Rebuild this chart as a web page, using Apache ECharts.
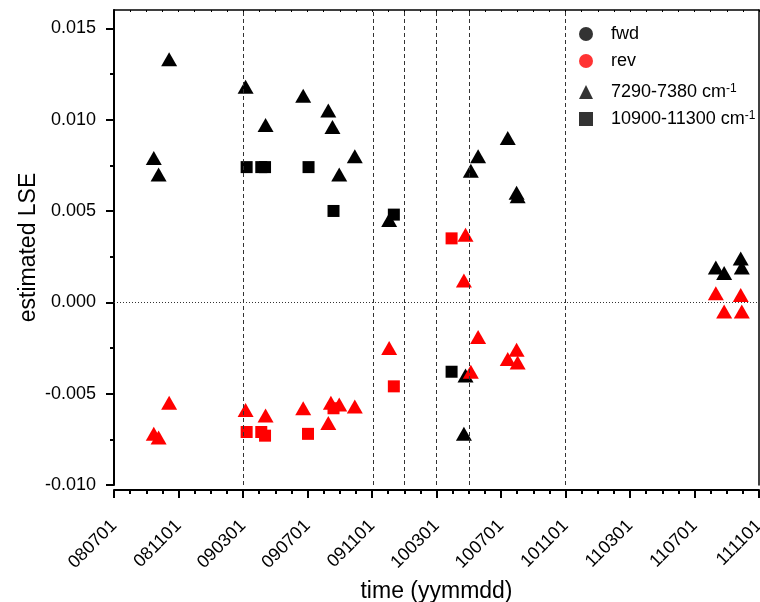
<!DOCTYPE html>
<html>
<head>
<meta charset="utf-8">
<script src="https://cdn.jsdelivr.net/npm/echarts@6/dist/echarts.min.js"></script>
<style>
html, body { margin: 0; padding: 0; background: #fff; }
#chart { width: 760px; height: 602px; }
</style>
</head>
<body>
<div id="chart"></div>
<script>
// tick labels (dates as yymmdd)
var xTickLabels = ['080701', '081101', '090301', '090701', '091101', '100301',
                   '100701', '101101', '110301', '110701', '111101'];
var yTickValues = [-0.010, -0.005, 0.000, 0.005, 0.010, 0.015];
var yMinorValues = [-0.0075, -0.0025, 0.0025, 0.0075, 0.0125];

// dashed vertical markers
var vLineDates = ['090301', '091104', '100101', '100301', '100501', '101101'];

// fwd, 7290-7380 cm-1
var fwdTriangle = [
    ['080915', 0.0079], ['080924', 0.0070], ['081014', 0.0133], ['090306', 0.0118],
    ['090413', 0.0097], ['090623', 0.0113], ['090810', 0.0105], ['090818', 0.0096],
    ['090831', 0.0070], ['090929', 0.0080], ['091203', 0.0045], ['100422', -0.0072],
    ['100425', -0.0040], ['100505', 0.0072], ['100519', 0.0080], ['100714', 0.0090],
    ['100731', 0.0060], ['100802', 0.0058], ['110811', 0.0019], ['110827', 0.0016],
    ['110927', 0.0024], ['110929', 0.0019]
];
// fwd, 10900-11300 cm-1
var fwdSquare = [
    ['090308', 0.0074], ['090405', 0.0074], ['090412', 0.0074], ['090703', 0.0074],
    ['090820', 0.0050], ['091212', 0.0048], ['100330', -0.0038]
];
// rev, 7290-7380 cm-1
var revTriangle = [
    ['080915', -0.0072], ['080924', -0.0074], ['081014', -0.0055], ['090306', -0.0059],
    ['090413', -0.0062], ['090623', -0.0058], ['090810', -0.0066], ['090815', -0.0055],
    ['090831', -0.0056], ['090929', -0.0057], ['091203', -0.0025], ['100422', 0.0012],
    ['100425', 0.0037], ['100505', -0.0038], ['100519', -0.0019], ['100714', -0.0031],
    ['100731', -0.0026], ['100802', -0.0033], ['110811', 0.0005], ['110827', -0.0005],
    ['110927', 0.0004], ['110929', -0.0005]
];
// rev, 10900-11300 cm-1
var revSquare = [
    ['090308', -0.0071], ['090405', -0.0071], ['090412', -0.0073], ['090702', -0.0072],
    ['090820', -0.0058], ['091212', -0.0046], ['100330', 0.0035]
];

var FONT = 'Liberation Sans, Arial, sans-serif';

// yymmdd -> months since the first tick label
function toMonths(s) {
    var y0 = +xTickLabels[0].slice(0, 2), m0 = +xTickLabels[0].slice(2, 4);
    var yy = +s.slice(0, 2), mm = +s.slice(2, 4), dd = +s.slice(4, 6);
    var dim = new Date(2000 + yy, mm, 0).getDate();
    return (yy - y0) * 12 + (mm - m0) + (dd - 1) / dim;
}
function toPoints(arr) {
    return arr.map(function (d) { return [toMonths(d[0]), d[1]]; });
}

var xMin = toMonths(xTickLabels[0]);
var xMax = toMonths(xTickLabels[xTickLabels.length - 1]);
var xStep = toMonths(xTickLabels[1]) - xMin;

var markLines = vLineDates.map(function (d) {
    return { xAxis: toMonths(d), lineStyle: { type: [4, 3], color: '#333', width: 1 } };
});
markLines.push({ yAxis: 0, lineStyle: { type: [1, 2], color: '#333', width: 1 } });

var legendNames = ['fwd', 'rev', '7290-7380 cm-1', '10900-11300 cm-1'];

var legendText = {
    fontFamily: FONT,
    fontSize: 18,
    color: '#000',
    padding: [0, 0, 0, 13],
    rich: {
        sup: { fontFamily: FONT, fontSize: 12, color: '#000', verticalAlign: 'top', lineHeight: 11 }
    }
};
function legendFormat(name) {
    return name.replace(' cm-1', ' cm{sup|-1}');
}

var chart = echarts.init(document.getElementById('chart'));
var options = {
    animation: false,
    backgroundColor: '#fff',
    textStyle: { fontFamily: FONT },
    grid: { left: 114, right: 1, top: 10, bottom: 117, outerBoundsMode: 'none', containLabel: false },
    legend: [
        {
            orient: 'vertical',
            left: 574,
            top: 20,
            itemWidth: 14,
            itemHeight: 14,
            itemGap: 9,
            selectedMode: false,
            data: [
                { name: legendNames[0], icon: 'circle', itemStyle: { color: '#000' } },
                { name: legendNames[1], icon: 'circle', itemStyle: { color: '#ff0000' } }
            ],
            formatter: legendFormat,
            textStyle: legendText
        },
        {
            orient: 'vertical',
            left: 574,
            top: 78,
            itemWidth: 14,
            itemHeight: 14,
            itemGap: 9,
            selectedMode: false,
            data: [
                { name: legendNames[2], icon: 'triangle', itemStyle: { color: '#000' } },
                { name: legendNames[3], icon: 'rect', itemStyle: { color: '#000' } }
            ],
            formatter: legendFormat,
            textStyle: legendText
        }
    ],
    xAxis: [
        {
            type: 'value',
            position: 'bottom',
            offset: 5,
            min: xMin,
            max: xMax,
            interval: xStep,
            name: 'time (yymmdd)',
            nameLocation: 'middle',
            nameGap: 90,
            nameMoveOverlap: false,
            nameTextStyle: { fontFamily: FONT, fontSize: 23, color: '#000' },
            axisLine: { onZero: false, lineStyle: { color: '#000', width: 2 } },
            axisTick: { length: 8, lineStyle: { color: '#000', width: 2 } },
            minorTick: { show: true, splitNumber: 4, length: 4, lineStyle: { color: '#000', width: 2 } },
            axisLabel: {
                rotate: 45,
                margin: 33,
                fontFamily: FONT,
                fontSize: 18,
                color: '#000',
                formatter: function (v) {
                    return xTickLabels[Math.round((v - xMin) / xStep)] || '';
                }
            },
            splitLine: { show: false }
        },
        {
            type: 'value',
            position: 'top',
            min: xMin,
            max: xMax,
            interval: 1,
            axisLine: { onZero: false, lineStyle: { color: '#000', width: 1.5 } },
            axisTick: { inside: true, length: 2, lineStyle: { color: '#000', width: 1 } },
            axisLabel: { show: false },
            splitLine: { show: false }
        }
    ],
    yAxis: [
        {
            type: 'value',
            min: -0.010,
            max: 0.016,
            interval: 0.005,
            name: 'estimated LSE',
            nameLocation: 'middle',
            nameGap: 74,
            nameMoveOverlap: false,
            nameTextStyle: { fontFamily: FONT, fontSize: 23, color: '#000' },
            axisLine: { show: true, onZero: false, lineStyle: { color: '#000', width: 2 } },
            axisTick: { show: true, length: 8, customValues: yTickValues, lineStyle: { color: '#000', width: 2 } },
            axisLabel: {
                margin: 18,
                fontFamily: FONT,
                fontSize: 18,
                color: '#000',
                customValues: yTickValues,
                formatter: function (v) {
                    var k = Math.round(v / 0.005);
                    if (Math.abs(v - k * 0.005) > 1e-9) return '';
                    return v.toFixed(3);
                }
            },
            splitLine: { show: false }
        },
        {
            type: 'value',
            min: -0.010,
            max: 0.016,
            position: 'left',
            axisLine: { show: false, onZero: false },
            axisTick: { show: true, length: 4, customValues: yMinorValues, lineStyle: { color: '#000', width: 2 } },
            axisLabel: { show: false },
            splitLine: { show: false }
        },
        {
            type: 'value',
            min: -0.010,
            max: 0.016,
            position: 'right',
            axisLine: { show: true, onZero: false, lineStyle: { color: '#000', width: 1.5 } },
            axisTick: { show: false },
            axisLabel: { show: false },
            splitLine: { show: false }
        }
    ],
    series: [
        {
            name: 'fwd 7290-7380',
            type: 'scatter',
            symbol: 'triangle',
            symbolSize: [16, 14],
            itemStyle: { color: '#000', opacity: 1 },
            data: toPoints(fwdTriangle),
            markLine: {
                silent: true,
                symbol: 'none',
                label: { show: false },
                data: markLines
            }
        },
        {
            name: 'fwd 10900-11300',
            type: 'scatter',
            symbol: 'rect',
            symbolSize: 12,
            itemStyle: { color: '#000', opacity: 1 },
            data: toPoints(fwdSquare)
        },
        {
            name: 'rev 7290-7380',
            type: 'scatter',
            symbol: 'triangle',
            symbolSize: [16, 14],
            itemStyle: { color: '#ff0000', opacity: 1 },
            data: toPoints(revTriangle)
        },
        {
            name: 'rev 10900-11300',
            type: 'scatter',
            symbol: 'rect',
            symbolSize: 12,
            itemStyle: { color: '#ff0000', opacity: 1 },
            data: toPoints(revSquare)
        },
        { name: legendNames[0], type: 'scatter', itemStyle: { color: '#000' }, data: [] },
        { name: legendNames[1], type: 'scatter', itemStyle: { color: '#ff0000' }, data: [] },
        { name: legendNames[2], type: 'scatter', itemStyle: { color: '#000' }, data: [] },
        { name: legendNames[3], type: 'scatter', itemStyle: { color: '#000' }, data: [] }
    ]
};
chart.setOption(options);
</script>
</body>
</html>
